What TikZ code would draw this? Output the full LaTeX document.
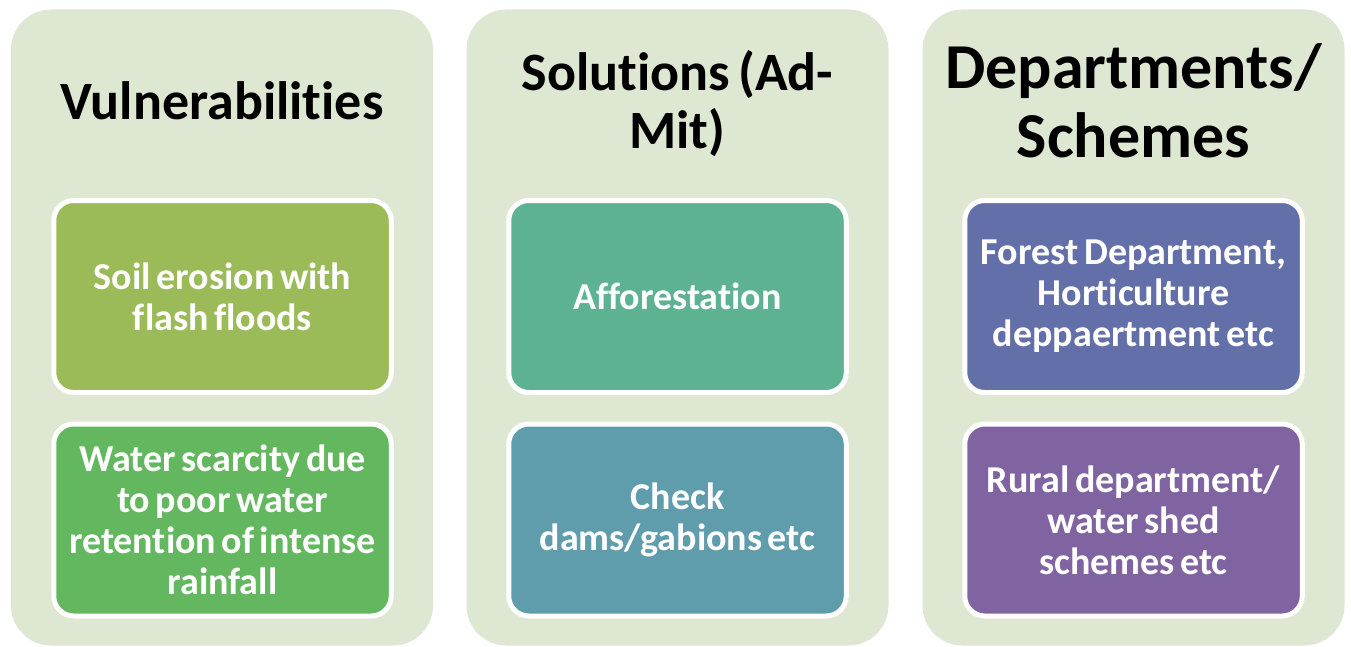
\documentclass[tikz,border=0pt]{standalone}
\usepackage{fontspec}
\setmainfont{Carlito}[Ligatures={NoCommon}, WordSpace=0.65]
\definecolor{panelbg}{HTML}{DEE7D1}
\definecolor{cA}{HTML}{9BBB59}
\definecolor{cB}{HTML}{62B75F}
\definecolor{cC}{HTML}{5DB291}
\definecolor{cD}{HTML}{5F9DAD}
\definecolor{cE}{HTML}{636FA8}
\definecolor{cF}{HTML}{8064A2}
\tikzset{
  panel/.style={rectangle, rounded corners=40pt, fill=panelbg, draw=none,
    minimum width=422pt, minimum height=636pt, inner sep=0pt},
  itembox/.style={rectangle, rounded corners=20pt, draw=white, line width=5pt,
    minimum width=337.5pt, minimum height=192pt, inner sep=0pt,
    text=white, align=center,
    font=\fontsize{38}{41}\selectfont\bfseries},
  ttl/.style={text=black, align=center, inner sep=0pt}
}
\begin{document}
\begin{tikzpicture}[x=1pt,y=-1pt]
\useasboundingbox (0,0) rectangle (1351,647);
% panels
\node[panel] (p1) at (222,327.5) {};
\node[panel] (p2) at (677.5,327.5) {};
\node[panel] (p3) at (1133.5,327.5) {};
% titles
\node[ttl, anchor=base, font=\fontsize{54}{58}\selectfont\bfseries] (t1) at (222,120) {Vulnerabilities};
\node[ttl, anchor=center, font=\fontsize{54}{58}\selectfont\bfseries] (t2) at (677.5,104) {Solutions (Ad-\\Mit)};
\node[ttl, anchor=center, font=\fontsize{64}{69}\selectfont\bfseries] (t3) at (1133.5,101) {Departments/\\Schemes};
% item boxes
\node[itembox, fill=cA] (b1) at (222.5,296.5) {Soil erosion with\\flash floods};
\node[itembox, fill=cB] (b2) at (222.5,520) {Water scarcity due\\to poor water\\retention of intense\\rainfall};
\node[itembox, fill=cC] (b3) at (677.5,296.5) {Afforestation};
\node[itembox, fill=cD] (b4) at (677.5,520) {Check\\dams/gabions etc};
\node[itembox, fill=cE] (b5) at (1133.5,296.5) {Forest Department,\\Horticulture\\deppaertment etc};
\node[itembox, fill=cF] (b6) at (1133.5,520) {Rural department/\\water shed\\schemes etc};
\end{tikzpicture}
\end{document}
